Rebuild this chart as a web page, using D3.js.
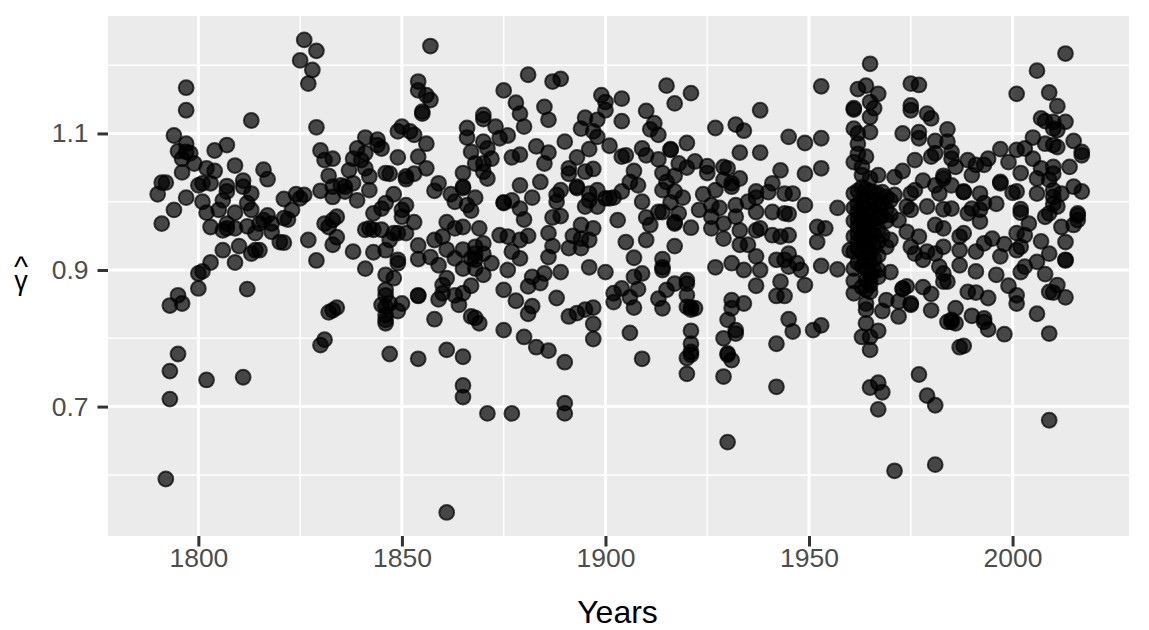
<!DOCTYPE html>
<html>
<head>
<meta charset="utf-8">
<script src="https://d3js.org/d3.v7.min.js"></script>
<style>
  body { margin: 0; background: #fff; }
  svg { display: block; }
  text { font-family: "Liberation Sans", Arial, sans-serif; }
</style>
</head>
<body>
<script>
// [year, gamma hat], split by period
var early = [[1797,1.167],[1797,1.134],[1813,1.119],[1826,1.237],[1829,1.221],[1825,1.207],[1828,1.193],[1827,1.173],[1829,1.109],
  [1794,1.097],[1797,1.085],[1807,1.083],[1804,1.075],[1795,1.074],[1797,1.073],[1798,1.071],[1796,1.063],[1799,1.056],[1796,1.043],
  [1809,1.053],[1802,1.049],[1804,1.045],[1816,1.047],[1817,1.033],[1811,1.031],[1811,1.022],[1807,1.023],[1807,1.015],
  [1792,1.028],[1791,1.028],[1790,1.011],[1800,1.024],[1801,1.027],[1803,1.027],[1813,1.012],[1797,1.006],[1801,1.0],[1806,1.002],
  [1805,0.988],[1802,0.984],[1812,0.998],[1813,0.988],[1794,0.988],[1791,0.968],[1809,0.984],[1803,0.963],[1806,0.958],[1807,0.968],
  [1807,0.961],[1809,0.961],[1812,0.964],[1814,0.954],[1815,0.968],[1817,0.98],[1818,0.968],[1816,0.973],[1818,0.956],[1820,0.941],[1821,0.94],
  [1821,1.004],[1824,1.011],[1826,1.01],[1825,1.005],[1823,0.988],[1822,0.974],[1821,0.976],[1827,0.944],[1829,0.914],
  [1830,1.075],[1831,1.061],[1833,1.063],[1832,1.038],[1830,1.016],[1833,1.007],[1833,1.022],[1835,1.024],[1836,1.022],[1837,1.046],
  [1836,1.015],[1834,0.978],[1833,0.973],[1831,0.968],[1832,0.963],[1834,0.948],
  [1833,0.937],[1806,0.929],[1810,0.935],[1809,0.911],[1813,0.924],[1815,0.929],[1814,0.929],[1803,0.911],[1801,0.898],[1800,0.895],
  [1800,0.873],[1812,0.872],[1795,0.863],[1796,0.851],[1793,0.848],[1795,0.777],[1793,0.752],[1802,0.739],[1811,0.743],[1793,0.711],[1792,0.594],
  [1834,0.845],[1833,0.841],[1832,0.838],[1831,0.798],[1830,0.79]];

var middle = [[1857,1.228],[1854,1.176],[1854,1.163],[1856,1.156],[1857,1.149],[1855,1.132],[1855,1.129],[1850,1.11],[1849,1.103],[1852,1.103],
  [1853,1.098],[1856,1.085],[1841,1.094],[1844,1.091],[1844,1.083],[1845,1.078],[1839,1.078],[1838,1.063],[1841,1.071],[1840,1.061],
  [1841,1.049],[1842,1.037],[1842,1.017],[1839,1.002],[1838,1.027],[1849,1.065],[1854,1.066],[1856,1.049],[1846,1.042],[1847,1.041],
  [1851,1.037],[1851,1.033],[1853,1.041],[1859,1.027],[1858,1.016],[1848,1.011],[1846,0.998],[1845,0.99],[1843,0.983],[1851,0.995],
  [1850,0.988],[1850,0.978],[1853,0.97],[1842,0.961],[1841,0.959],[1843,0.959],[1845,0.959],[1848,0.954],[1849,0.954],[1851,0.954],
  [1847,0.944],[1846,0.929],[1838,0.927],[1843,0.926],[1841,0.902],[1849,0.915],[1849,0.91],[1846,0.893],[1848,0.888],
  [1866,1.108],[1866,1.094],[1870,1.127],[1870,1.121],[1873,1.11],[1874,1.093],[1876,1.097],[1870,1.088],[1871,1.078],[1867,1.073],
  [1872,1.063],[1868,1.056],[1870,1.056],[1865,1.042],[1870,1.044],[1871,1.034],[1875,1.163],[1881,1.186],[1887,1.176],[1889,1.18],
  [1878,1.145],[1879,1.129],[1880,1.11],[1885,1.139],[1886,1.12],[1890,1.088],[1883,1.081],[1886,1.072],[1885,1.056],[1877,1.065],[1879,1.069],
  [1899,1.156],[1900,1.146],[1900,1.134],[1895,1.123],[1898,1.12],[1894,1.107],[1897,1.103],[1898,1.095],[1901,1.082],[1896,1.077],
  [1893,1.065],[1891,1.049],[1891,1.041],[1895,1.044],[1897,1.048],[1879,1.024],[1884,1.029],[1882,1.006],[1877,1.002],[1875,0.999],
  [1875,0.998],[1879,0.99],[1880,0.974],[1865,1.022],[1865,1.02],[1862,1.011],[1863,1.0],[1868,1.006],[1866,0.995],[1867,0.987],
  [1889,1.017],[1888,1.01],[1888,1.0],[1893,1.02],[1893,1.022],[1896,1.012],[1898,1.017],[1900,1.005],[1896,1.002],[1895,0.993],
  [1898,0.993],[1887,0.977],[1889,0.979],[1861,0.97],[1858,0.944],[1860,0.949],[1863,0.961],[1865,0.963],[1869,0.961],[1854,0.936],
  [1861,0.93],[1854,0.916],[1857,0.919],[1859,0.907],[1863,0.917],[1865,0.93],[1868,0.934],[1870,0.939],[1868,0.924],[1867,0.917],
  [1868,0.915],[1870,0.924],[1865,0.902],[1868,0.902],[1870,0.893],[1872,0.91],[1876,0.9],[1874,0.951],[1876,0.949],[1879,0.944],
  [1881,0.95],[1877,0.927],[1879,0.917],[1886,0.954],[1887,0.935],[1886,0.919],[1894,0.966],[1897,0.961],[1892,0.95],[1894,0.946],
  [1896,0.944],[1891,0.932],[1894,0.932],[1896,0.904],[1889,0.897],[1885,0.895],[1882,0.89],[1900,0.897],
  [1846,0.871],[1846,0.863],[1845,0.849],[1847,0.851],[1850,0.851],[1849,0.84],[1846,0.846],[1846,0.834],
  [1846,0.827],[1846,0.822],[1854,0.863],[1854,0.862],[1858,0.828],[1847,0.777],[1854,0.77],[1861,0.783],[1865,0.773],[1865,0.731],
  [1865,0.714],[1871,0.69],[1877,0.69],[1890,0.705],[1890,0.69],[1861,0.545],[1860,0.878],[1861,0.888],[1860,0.866],[1859,0.857],
  [1864,0.849],[1863,0.863],[1865,0.866],[1867,0.877],[1867,0.832],[1868,0.83],[1869,0.822],[1875,0.871],[1878,0.855],
  [1875,0.812],[1880,0.802],[1883,0.787],[1886,0.782],[1890,0.765],[1881,0.876],[1884,0.881],[1882,0.847],
  [1881,0.836],[1888,0.859],[1891,0.832],[1893,0.837],[1895,0.842],[1897,0.845],[1897,0.821],[1897,0.799]];

var late = [[1915,1.17],[1921,1.159],[1917,1.144],[1904,1.151],[1910,1.133],[1904,1.118],[1912,1.115],
  [1911,1.106],[1913,1.098],[1927,1.108],[1932,1.113],[1934,1.104],[1938,1.134],[1953,1.169],[1945,1.095],[1949,1.086],[1953,1.093],
  [1905,1.068],[1904,1.066],[1909,1.078],[1910,1.068],[1916,1.077],[1916,1.076],[1920,1.086],
  [1913,1.062],[1933,1.072],[1938,1.072],[1907,1.045],[1906,1.029],[1908,1.024],[1918,1.056],[1922,1.059],[1920,1.05],[1925,1.052],
  [1925,1.042],[1929,1.051],[1930,1.049],[1943,1.046],[1949,1.041],[1953,1.049],[1914,1.042],[1917,1.038],[1915,1.029],[1914,1.017],
  [1917,1.015],[1919,1.006],[1904,1.015],[1902,1.006],[1901,1.005],[1909,1.0],[1927,1.017],[1924,1.011],
  [1929,1.032],[1931,1.027],[1933,1.034],[1931,1.022],[1937,1.015],[1937,1.006],[1941,1.027],[1940,1.014],[1944,1.012],[1946,1.012],
  [1949,0.995],[1957,0.991],[1916,0.999],[1913,0.985],[1914,0.985],[1918,0.983],[1917,0.97],[1917,0.968],[1910,0.977],[1911,0.966],
  [1903,0.973],[1921,0.962],[1923,0.988],[1926,0.995],[1928,0.991],[1932,0.995],[1935,1.0],[1937,0.985],[1941,0.985],[1944,0.983],
  [1945,0.982],[1932,0.978],[1926,0.978],[1929,0.968],[1926,0.961],[1933,0.958],[1937,0.958],[1938,0.961],[1941,0.951],[1943,0.949],
  [1945,0.951],[1929,0.946],[1933,0.937],[1935,0.937],[1937,0.92],[1952,0.963],[1954,0.961],[1952,0.941],[1905,0.941],[1910,0.944],
  [1917,0.935],[1907,0.918],[1914,0.916],[1914,0.904],[1914,0.9],[1931,0.91],[1927,0.904],
  [1934,0.9],[1938,0.9],[1942,0.915],[1945,0.924],[1944,0.915],[1947,0.91],[1948,0.9],[1945,0.905],[1953,0.906],[1957,0.901],
  [1907,0.89],[1909,0.895],[1917,0.88],[1920,0.885],[1920,0.88],[1915,0.871],[1913,0.858],[1914,0.844],[1904,0.873],[1908,0.872],
  [1902,0.866],[1902,0.853],[1906,0.86],[1907,0.845],[1920,0.863],[1920,0.846],[1921,0.842],[1922,0.844],[1921,0.845],[1921,0.811],
  [1921,0.792],[1921,0.78],[1921,0.776],[1920,0.771],[1920,0.748],[1906,0.808],[1909,0.77],[1930,0.648],[1937,0.877],[1942,0.862],
  [1944,0.862],[1943,0.883],[1949,0.878],[1931,0.856],[1934,0.851],[1931,0.844],[1930,0.827],[1932,0.812],[1932,0.807],[1929,0.8],
  [1930,0.778],[1930,0.776],[1931,0.768],[1929,0.744],[1945,0.828],[1946,0.81],[1953,0.819],[1951,0.812],[1942,0.792],[1942,0.729]];

var recent = [[1965,1.202],[1962,1.165],[1964,1.17],[1967,1.158],[1965,1.146],[1966,1.137],[1961,1.137],[1961,1.135],[1965,1.124],[1961,1.107],
  [1965,1.102],[1962,1.1],[1962,1.085],[1962,1.07],[1964,1.066],[1961,1.058],[1963,1.051],[1967,1.039],[1963,1.039],[1965,1.034],
  [1975,1.173],[1977,1.171],[1975,1.141],[1975,1.134],[1979,1.129],[1980,1.122],[1973,1.1],[1977,1.102],[1977,1.093],[1984,1.106],
  [1984,1.088],[1981,1.089],[1981,1.071],[1980,1.066],[1985,1.073],[1985,1.063],[1986,1.051],[1976,1.061],[1973,1.045],[1971,1.036],
  [1978,1.031],[1983,1.038],[1983,1.034],[1985,1.024],[1976,1.017],[1981,1.024],[1982,1.012],[1989,1.061],[1990,1.039],[1991,1.054],
  [2001,1.158],[2006,1.192],[2013,1.217],[2009,1.16],[2011,1.14],[2007,1.122],[2008,1.118],[2010,1.117],[2013,1.117],[2010,1.107],
  [2011,1.105],[2005,1.094],[2015,1.089],[2017,1.073],[2017,1.068],[2008,1.085],[2010,1.083],[2011,1.08],[1997,1.077],[2001,1.076],
  [2003,1.078],[2005,1.063],[1994,1.063],[1993,1.054],[1999,1.058],[2002,1.042],[2007,1.049],[2006,1.034],[2010,1.051],[2010,1.041],
  [2014,1.051],[2009,1.032],[1997,1.029],[1997,1.027],[1988,1.015],[1988,1.014],[1992,1.012],[2000,1.013],[2001,1.015],[2006,1.012],
  [2015,1.022],[2017,1.015],[1993,0.998],[1996,0.997],[1990,0.99],[1989,0.983],[2010,1.017],[2010,1.007],[2010,0.997],[2011,0.993],
  [2009,0.983],[2008,0.978],[2012,1.012],[2002,0.989],[2002,0.984],[2004,0.968],[2016,0.983],[2016,0.98],[2016,0.973],[2012,0.963],
  [2015,0.966],[1992,0.988],[1992,0.971],[1995,0.946],[1998,0.938],[1997,0.92],[1993,0.939],[1988,0.954],[1987,0.949],[1987,0.929],
  [1991,0.927],[1987,0.907],[2003,0.905],[2002,0.897],[2001,0.954],[2003,0.951],[2002,0.934],[2001,0.929],[2007,0.942],
  [2009,0.924],[2006,0.912],[2013,0.941],[2013,0.914],[2013,0.915],[2008,0.894],[1970,0.944],[1969,0.934],[1960,0.929],
  [1971,1.01],[1972,0.973],[1974,0.993],[1975,1.012],[1975,0.988],[1979,0.993],[1983,0.989],[1985,0.99],[1974,0.956],[1977,0.949],
  [1975,0.934],[1976,0.924],[1979,0.927],[1978,0.915],[1981,0.966],[1983,0.961],[1983,0.934],[1981,0.924],[1982,0.905],[1983,0.895],
  [1970,0.897],[1967,0.9],
  [1961,0.866],[1964,0.871],[1965,0.878],[1965,0.885],[1967,0.89],[1969,0.856],[1968,0.84],[1964,0.851],[1964,0.842],[1972,0.854],
  [1972,0.832],[1975,0.849],[1975,0.851],[1973,0.873],[1973,0.872],[1974,0.876],[1978,0.875],[1980,0.865],[1980,0.841],[1983,0.883],
  [1984,0.883],[1989,0.868],[1991,0.867],[1994,0.859],[1999,0.877],[1996,0.893],[1991,0.898],[1986,0.844],[1990,0.833],[1984,0.824],
  [1985,0.824],[1986,0.822],[1985,0.827],[1993,0.829],[1993,0.824],[1994,0.813],[1998,0.806],[2001,0.863],[2001,0.851],[2006,0.836],
  [2009,0.807],[2011,0.878],[2009,0.868],[2010,0.867],[2013,0.86],[1964,0.822],[1967,0.811],[1963,0.802],[1965,0.802],[1965,0.783],
  [1987,0.787],[1988,0.789],[1977,0.747],[1967,0.735],[1965,0.728],[1968,0.721],[1967,0.696],[1979,0.716],[1981,0.702],[2009,0.68],[1971,0.606],[1981,0.615]];

// the thick pile in the early 1960s
var pile = [[1961,1.012],[1961,0.991],[1961,0.972],[1961,0.949],[1961,0.927],[1961,0.902],[1961,0.884],
  [1962,1.016],[1962,0.996],[1962,0.985],[1962,0.975],[1962,0.964],[1962,0.953],[1962,0.942],[1962,0.931],[1962,0.911],
  [1963,1.021],[1963,1.003],[1963,0.99],[1963,0.981],[1963,0.966],[1963,0.955],[1963,0.939],[1963,0.925],[1963,0.906],[1963,0.875],
  [1964,1.018],[1964,1.003],[1964,0.989],[1964,0.975],[1964,0.961],[1964,0.946],[1964,0.931],[1964,0.915],[1964,0.901],[1964,0.885],
  [1965,1.015],[1965,1.001],[1965,0.985],[1965,0.971],[1965,0.956],[1965,0.941],[1965,0.925],[1965,0.911],[1965,0.895],[1965,0.868],
  [1966,1.014],[1966,1.0],[1966,0.986],[1966,0.968],[1966,0.951],[1966,0.934],[1966,0.916],[1966,0.899],
  [1967,1.011],[1967,0.994],[1967,0.976],[1967,0.959],[1967,0.941],[1967,0.921],
  [1968,1.014],[1968,0.997],[1968,0.979],[1968,0.951],[1969,1.007],[1969,0.989],[1969,0.972],[1970,1.002],[1970,0.981]];

var majorX = [1800, 1850, 1900, 1950, 2000];
var minorX = [1825, 1875, 1925, 1975];
var majorY = [0.7, 0.9, 1.1];
var minorY = [0.6, 0.8, 1.0, 1.2];

var points = early.concat(middle, late, recent, pile);

var svg = d3.select("body").append("svg")
    .attr("width", 1149)
    .attr("height", 630);

var x = d3.scaleLinear().domain([1777.8, 2028.6]).range([108, 1129]);
var y = d3.scaleLinear().domain([0.5105, 1.272]).range([536, 16]);

svg.append("rect")
    .attr("x", 108).attr("y", 16)
    .attr("width", 1021).attr("height", 520)
    .attr("fill", "#ebebeb");

function vlines(vals, w) {
  svg.append("g").selectAll("line").data(vals).enter().append("line")
      .attr("x1", x).attr("x2", x)
      .attr("y1", 16).attr("y2", 536)
      .attr("stroke", "#fff").attr("stroke-width", w);
}
function hlines(vals, w) {
  svg.append("g").selectAll("line").data(vals).enter().append("line")
      .attr("x1", 108).attr("x2", 1129)
      .attr("y1", y).attr("y2", y)
      .attr("stroke", "#fff").attr("stroke-width", w);
}
hlines(minorY, 1.5);
vlines(minorX, 1.5);
hlines(majorY, 3);
vlines(majorX, 3);

svg.append("g").selectAll("circle").data(points).enter().append("circle")
    .attr("cx", function(d){return x(d[0])})
    .attr("cy", function(d){return y(d[1])})
    .attr("r", 7.4)
    .attr("fill", "#000").attr("fill-opacity", 0.7)
    .attr("stroke", "#000").attr("stroke-opacity", 0.7).attr("stroke-width", 2);

var xAxis = d3.axisBottom(x).tickValues(majorX).tickFormat(d3.format("d")).tickSize(10.5).tickPadding(2);
var yAxis = d3.axisLeft(y).tickValues(majorY).tickFormat(d3.format(".1f")).tickSize(10.5).tickPadding(9);

var gx = svg.append("g").attr("transform", "translate(0,536)").call(xAxis);
var gy = svg.append("g").attr("transform", "translate(108,0)").call(yAxis);
[gx, gy].forEach(function(g){
  g.select(".domain").remove();
  g.selectAll("line").attr("stroke", "#333").attr("stroke-width", 3);
  g.selectAll("text").attr("fill", "#4d4d4d").style("font-size", "26.5px")
   .style("font-family", '"Liberation Sans", Arial, sans-serif');
});

svg.append("text")
    .attr("x", 617.5).attr("y", 623)
    .attr("text-anchor", "middle")
    .style("font-size", "32px")
    .text("Years");

// hat over gamma, as the y title
var yTitle = svg.append("text").attr("text-anchor", "middle");
yTitle.append("tspan").attr("x", 21).attr("y", 277).style("font-size", "30px").text("^");
yTitle.append("tspan").attr("x", 21).attr("y", 290).style("font-size", "27px").text("γ");
</script>
</body>
</html>
